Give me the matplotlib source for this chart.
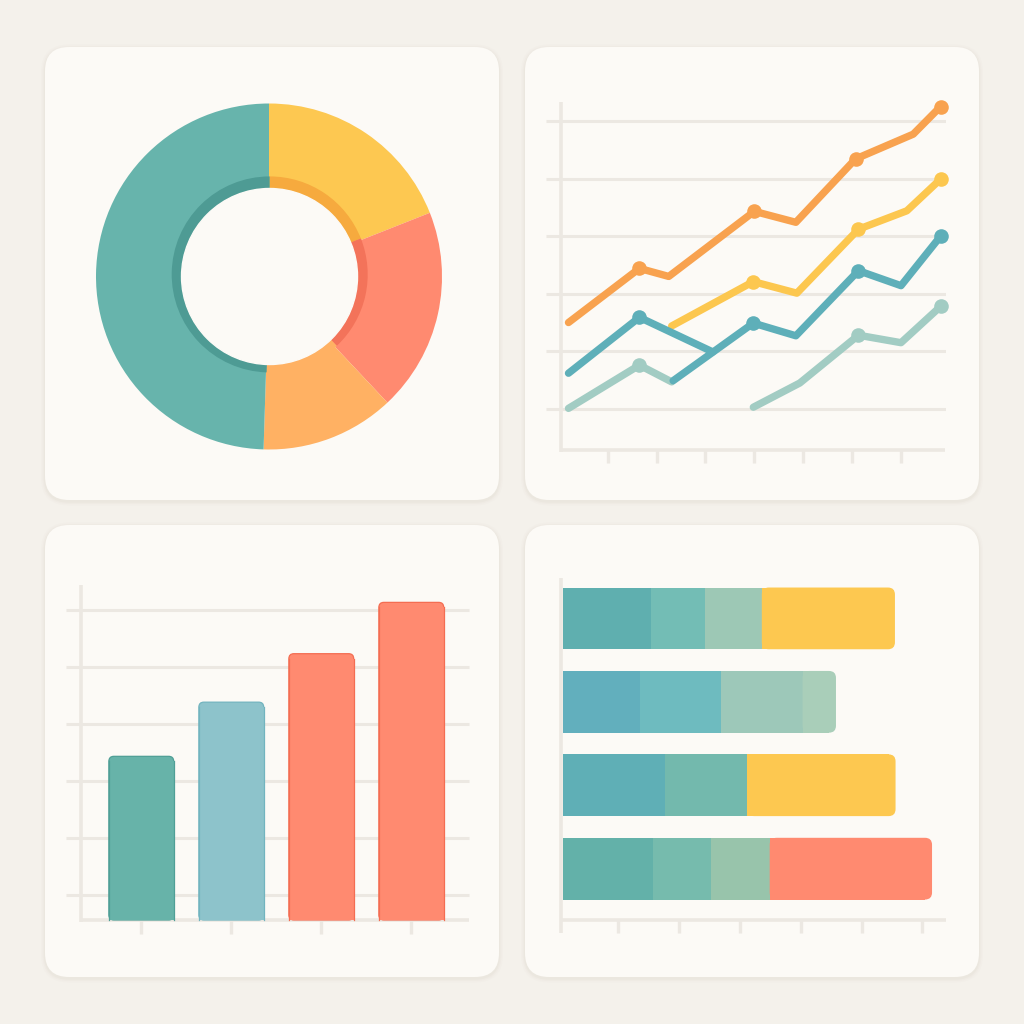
import numpy as np
import matplotlib
matplotlib.use("Agg")
import matplotlib.pyplot as plt
from matplotlib.patches import FancyBboxPatch, Rectangle, Circle

# ------------------------------------------------------------------
# data
# ------------------------------------------------------------------
# donut, clockwise from 12 o'clock
donut_parts = ["yellow", "red", "orange", "teal"]
donut_values = [19.0, 19.0, 12.5, 49.5]
donut_colors = ["#FDC851", "#FF8A70", "#FFB163", "#67B4AC"]
donut_rim_colors = ["#F6AA3E", "#F3735A", "#FFB163", "#4E9B94"]

# line chart (x in tick units, y in grid units)
orange_x = [0.2, 1.65, 2.25, 4.0, 4.85, 6.07, 7.25, 7.81]
orange_y = [2.5, 3.44, 3.3, 4.43, 4.24, 5.34, 5.77, 6.25]
orange_marks = [1, 3, 5, 7]

yellow_x = [2.31, 3.98, 4.87, 6.13, 7.12, 7.81]
yellow_y = [2.44, 3.21, 3.01, 4.12, 4.44, 4.99]
yellow_marks = [1, 3, 5]

teal_a_x = [0.2, 1.65, 3.15]
teal_a_y = [1.62, 2.59, 1.99]
teal_a_marks = [1]

teal_b_x = [2.34, 3.98, 4.85, 6.13, 7.0, 7.81]
teal_b_y = [1.49, 2.49, 2.27, 3.4, 3.14, 4.0]
teal_b_marks = [1, 3, 5]

mint_a_x = [0.2, 1.65, 2.31]
mint_a_y = [1.01, 1.76, 1.47]
mint_a_marks = [1]

mint_b_x = [3.98, 4.93, 6.13, 7.0, 7.81]
mint_b_y = [1.03, 1.45, 2.28, 2.15, 2.78]
mint_b_marks = [2, 4]

# vertical bars
bar_pos = [0, 1, 2, 3]
bar_values = [2.87, 3.82, 4.67, 5.57]
bar_colors = ["#67B3A9", "#8DC3CB", "#FF8A70", "#FF8A70"]
bar_edges = ["#4F9F96", "#72B4BF", "#F46D52", "#F46D52"]

# stacked horizontal bars (top to bottom)
row_1 = [1.45, 0.89, 0.93, 2.19]
row_2 = [1.27, 1.33, 1.34, 0.55]
row_3 = [1.68, 1.35, 2.44]
row_4 = [1.48, 0.95, 0.97, 2.67]
row_1_colors = ["#5FAFAF", "#73BDB5", "#9DC8B5", "#FDC850"]
row_2_colors = ["#62AFBD", "#6EBBBF", "#9DC8B9", "#A9CEB9"]
row_3_colors = ["#5FAFB6", "#73B9AD", "#FDC850"]
row_4_colors = ["#63B1A9", "#76BBAD", "#98C4AB", "#FF8A70"]

# ------------------------------------------------------------------
# style
# ------------------------------------------------------------------
BG = "#F4F1EB"
CARD = "#FCFAF6"
GRID = "#ECE8E2"
W = 1024


def rect_px(x0, y0, x1, y1):
    # pixel box (top-left origin) -> figure fraction
    return [x0 / W, 1 - y1 / W, (x1 - x0) / W, (y1 - y0) / W]


def units_per_px(ax):
    p0 = ax.transData.transform((0, 0))
    p1 = ax.transData.transform((1, 1))
    return 1 / abs(p1[0] - p0[0]), 1 / abs(p1[1] - p0[1])


def round_top(ax, patch, r_px):
    x, y, w, h = patch.get_x(), patch.get_y(), patch.get_width(), patch.get_height()
    fc, ec = patch.get_facecolor(), patch.get_edgecolor()
    patch.remove()
    ux, uy = units_per_px(ax)
    rx, ry = r_px * ux, r_px * uy
    ax.add_patch(FancyBboxPatch((x, y), w, h, boxstyle=f"round,pad=0,rounding_size={rx}",
                                mutation_aspect=ry / rx, fc=fc, ec=ec, lw=0.9, zorder=3))
    ax.add_patch(Rectangle((x, y), w, h - ry, fc=fc, ec="none", zorder=3))
    ax.plot([x, x], [y, y + h - ry], color=ec, lw=0.9, zorder=4)
    ax.plot([x + w, x + w], [y, y + h - ry], color=ec, lw=0.9, zorder=4)


def round_right(ax, patch, r_px):
    x, y, w, h = patch.get_x(), patch.get_y(), patch.get_width(), patch.get_height()
    fc = patch.get_facecolor()
    patch.remove()
    ux, uy = units_per_px(ax)
    rx, ry = r_px * ux, r_px * uy
    ax.add_patch(FancyBboxPatch((x, y), w, h, boxstyle=f"round,pad=0,rounding_size={rx}",
                                mutation_aspect=ry / rx, fc=fc, ec="none", zorder=3))
    ax.add_patch(Rectangle((x, y), w - rx, h, fc=fc, ec="none", zorder=3))


fig = plt.figure(figsize=(10.24, 10.24), dpi=100)
fig.patch.set_facecolor(BG)

# background + cards
bg = fig.add_axes([0, 0, 1, 1])
bg.set_xlim(0, W)
bg.set_ylim(W, 0)
bg.axis("off")
cards = [(45, 47, 499, 500), (525, 47, 979, 500), (45, 525, 499, 977), (525, 525, 979, 977)]
for x0, y0, x1, y1 in cards:
    for grow, a in [(4, 0.05), (2.5, 0.07), (1.2, 0.1)]:
        bg.add_patch(FancyBboxPatch((x0 - grow, y0 - grow + 1.5), x1 - x0 + 2 * grow, y1 - y0 + 2 * grow,
                                    boxstyle=f"round,pad=0,rounding_size={24 + grow}",
                                    fc="#CFC6B8", ec="none", alpha=a))
    bg.add_patch(FancyBboxPatch((x0, y0), x1 - x0, y1 - y0, boxstyle="round,pad=0,rounding_size=24",
                                fc=CARD, ec="none"))

# ---------------- donut ----------------
cx, cy, R = 269, 276.5, 173
ax1 = fig.add_axes(rect_px(cx - R, cy - R, cx + R, cy + R))
ax1.pie(donut_values, colors=donut_colors, startangle=90, counterclock=False, radius=1,
        wedgeprops=dict(width=85 / R, edgecolor="none"))
ax1.pie(donut_values, colors=donut_rim_colors, startangle=90, counterclock=False, radius=98 / R,
        center=(0.004, 0.012), wedgeprops=dict(width=12 / R, edgecolor="none"))
ax1.add_patch(Circle((0.003, 0), 88 / R, color=CARD, zorder=5))
ax1.set_xlim(-1, 1)
ax1.set_ylim(-1, 1)
ax1.set_aspect("equal")
ax1.axis("off")

# ---------------- lines ----------------
ax2 = fig.add_axes(rect_px(546, 95, 946, 470))
ax2.set_xlim(-0.26, 7.92)
ax2.set_ylim(-0.06, 6.45)
ax2.axis("off")
ax2.hlines(range(1, 7), -0.26, 7.92, color=GRID, lw=2.2, zorder=1)
ax2.vlines(0.05, 0.26, 6.33, color=GRID, lw=2.6, zorder=1)
ax2.hlines(0.28, 0.03, 7.9, color=GRID, lw=2.6, zorder=1)
ax2.vlines(range(1, 8), 0.06, 0.28, color=GRID, lw=2.4, zorder=1)

series = [
    (mint_a_x, mint_a_y, mint_a_marks, "#A2CCC3"),
    (mint_b_x, mint_b_y, mint_b_marks, "#A2CCC3"),
    (yellow_x, yellow_y, yellow_marks, "#FCC74F"),
    (teal_b_x, teal_b_y, teal_b_marks, "#5EAFB9"),
    (teal_a_x, teal_a_y, teal_a_marks, "#5EAFB9"),
    (orange_x, orange_y, orange_marks, "#F8A24F"),
]
for z, (xs, ys, marks, col) in enumerate(series):
    ax2.plot(xs, ys, color=col, lw=5.3, solid_capstyle="round", solid_joinstyle="round",
             clip_on=False, zorder=3 + z)
    ax2.plot([xs[i] for i in marks], [ys[i] for i in marks], "o", color=col, ms=10.5,
             mec="none", clip_on=False, zorder=3 + z)

# ---------------- vertical bars ----------------
ax3 = fig.add_axes(rect_px(60, 575, 475, 940))
ax3.set_xlim(-0.903, 3.708)
ax3.set_ylim(-0.351, 6.05)
ax3.axis("off")
ax3.hlines(np.arange(6) + 0.43, -0.84, 3.64, color=GRID, lw=2.2, zorder=1)
ax3.vlines(-0.67, -0.03, 5.88, color=GRID, lw=2.6, zorder=1)
ax3.hlines(0, -0.68, 3.64, color=GRID, lw=2.6, zorder=1)
ax3.vlines(bar_pos, -0.245, 0, color=GRID, lw=2.4, zorder=1)
bars = ax3.bar(bar_pos, bar_values, width=0.72, color=bar_colors, edgecolor=bar_edges, zorder=3)
for b in bars:
    round_top(ax3, b, 5)

# ---------------- stacked horizontal bars ----------------
ax4 = fig.add_axes(rect_px(545, 565, 960, 945))
ax4.set_xlim(-0.296, 6.53)
ax4.set_ylim(3.915, -0.64)
ax4.axis("off")
ax4.vlines(-0.033, -0.49, 3.77, color=GRID, lw=2.6, zorder=1)
ax4.hlines(3.615, -0.02, 6.3, color=GRID, lw=2.6, zorder=1)
ax4.vlines(np.arange(6) + 0.91, 3.615, 3.77, color=GRID, lw=2.4, zorder=1)
rows = [(row_1, row_1_colors), (row_2, row_2_colors), (row_3, row_3_colors), (row_4, row_4_colors)]
for i, (vals, cols) in enumerate(rows):
    lefts = np.concatenate([[0], np.cumsum(vals)[:-1]])
    segs = ax4.barh(i, vals, left=lefts, height=0.74, color=cols, edgecolor="none", zorder=3)
    round_right(ax4, segs[-1], 7)

fig.savefig("out.png", dpi=100, facecolor=BG)
